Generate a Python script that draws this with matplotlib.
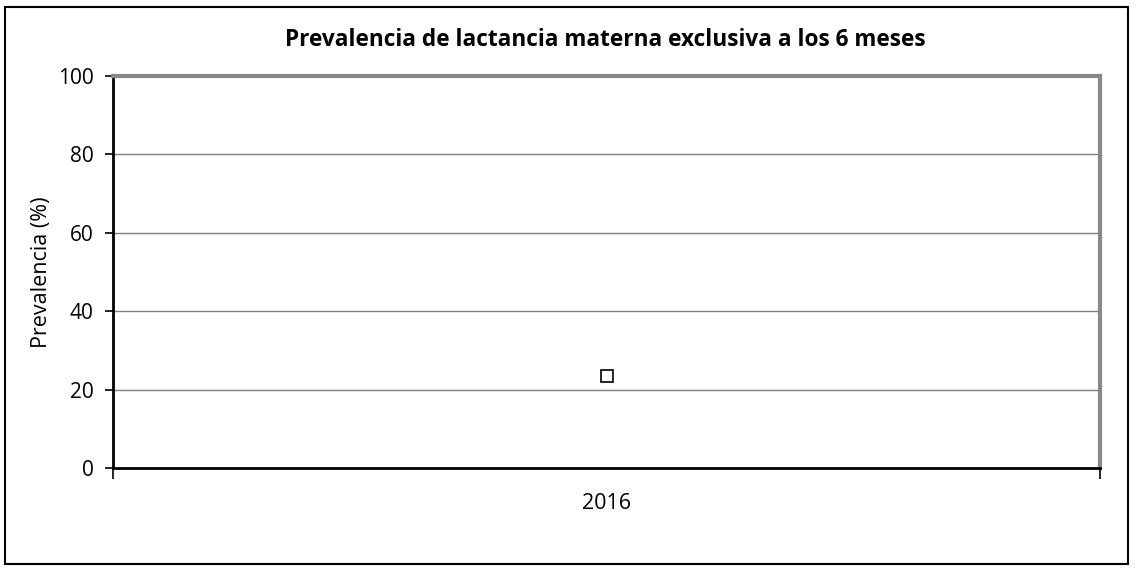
import matplotlib.pyplot as plt
from matplotlib.patches import Rectangle

# DATA
years = ['2016']
prevalencia = [23.5]
y_ticks = [0, 20, 40, 60, 80, 100]

plt.rcParams['font.family'] = ['Open Sans', 'DejaVu Sans']

fig = plt.figure(figsize=(11.36, 5.72), dpi=100)
W, H = 1136, 572

# outer chart border
fig.patches.append(Rectangle((5 / W, 1 - 564 / H), 1123 / W, 557 / H,
                             transform=fig.transFigure, fill=False,
                             edgecolor='black', linewidth=1.5))

ax = fig.add_axes([113 / W, 1 - 468 / H, 987 / W, 392 / H])

# PLOT THE SINGLE POINT
x = list(range(len(years)))
ax.plot(x, prevalencia, linestyle='none', marker='s', markersize=9,
        markerfacecolor='white', markeredgecolor='black', markeredgewidth=1.2,
        zorder=5)

ax.set_xlim(-0.5, len(years) - 0.5)
ax.set_ylim(0, 100)
ax.set_yticks(y_ticks)
ax.set_yticklabels([str(v) for v in y_ticks], fontsize=15)

# category labels between the edge ticks
ax.set_xticks([-0.5, len(years) - 0.5])
ax.set_xticklabels([])
ax.tick_params(axis='x', direction='out', length=8, width=1.2, color='black')
for i, yr in enumerate(years):
    ax.text(i, -0.065, yr, transform=ax.get_xaxis_transform(),
            ha='center', va='top', fontsize=15.5)

ax.tick_params(axis='y', direction='out', length=6, width=1.2, pad=8)
ax.yaxis.grid(True, color='#808080', linewidth=1)
ax.set_axisbelow(True)

ax.spines['left'].set_color('black')
ax.spines['left'].set_linewidth(2)
ax.spines['bottom'].set_color('black')
ax.spines['bottom'].set_linewidth(2)
ax.spines['top'].set_color('#888888')
ax.spines['top'].set_linewidth(3)
ax.spines['right'].set_color('#888888')
ax.spines['right'].set_linewidth(3)

ax.set_ylabel('Prevalencia (%)', fontsize=15.5, labelpad=4)
fig.text(605 / W, 1 - 40 / H, 'Prevalencia de lactancia materna exclusiva a los 6 meses',
         ha='center', va='center', fontsize=16.3, fontweight='bold')

fig.savefig('out.png', dpi=100)
